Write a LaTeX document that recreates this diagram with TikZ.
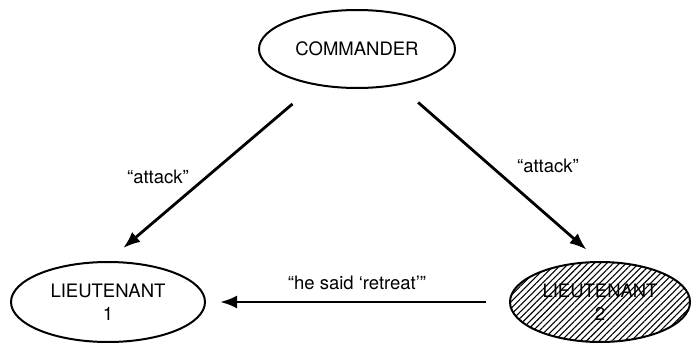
\documentclass[tikz,border=0pt]{standalone}
\usepackage{fontspec}
\setmainfont{TeX Gyre Heros}
\usetikzlibrary{arrows.meta, shapes.geometric, patterns.meta}
\tikzset{
    rank/.style={draw, ellipse, line width=2pt, inner sep=0pt, align=center,
        font=\fontsize{18.5}{23}\selectfont},
    order/.style={-{Latex[length=17pt, width=13pt]}, line width=2.8pt},
    saying/.style={font=\fontsize{18.5}{20}\selectfont},
    traitor/.style={pattern={Lines[angle=45, distance=4.5pt, line width=1.1pt]}}
}
\newcommand{\drawR}[6][]{
    \node[rank, minimum width=#4pt, minimum height=#5pt, #1] (#2) at (#3) {#6};
}
\newcommand{\drawS}[3]{
    \node[saying] (#1) at (#2) {#3};
}

\begin{document}
\begin{tikzpicture}[x=1pt, y=-1pt]
    \useasboundingbox (0,0) rectangle (692,342);

    % Ranks
        \drawR{cmd}{357,49}{196}{78}{COMMANDER}
        \drawR{lt1}{108,302}{194}{80}{LIEUTENANT\\1}
        \drawR[traitor]{lt2}{600,302}{180}{80}{LIEUTENANT\\2}

    % Orders
        \draw[order, shorten <=29pt, shorten >=20pt] (cmd) -- (lt1.north);
        \draw[order, shorten <=26pt, shorten >=18pt] (cmd) -- (lt2.north);
        \draw[order, shorten <=23pt, shorten >=14pt] (lt2) -- (lt1);

    % Sayings
        \drawS{say1}{158,177}{``attack''}
        \drawS{say2}{548,166}{``attack''}
        \drawS{say3}{357,283}{``he said `retreat'{}''}
\end{tikzpicture}
\end{document}
